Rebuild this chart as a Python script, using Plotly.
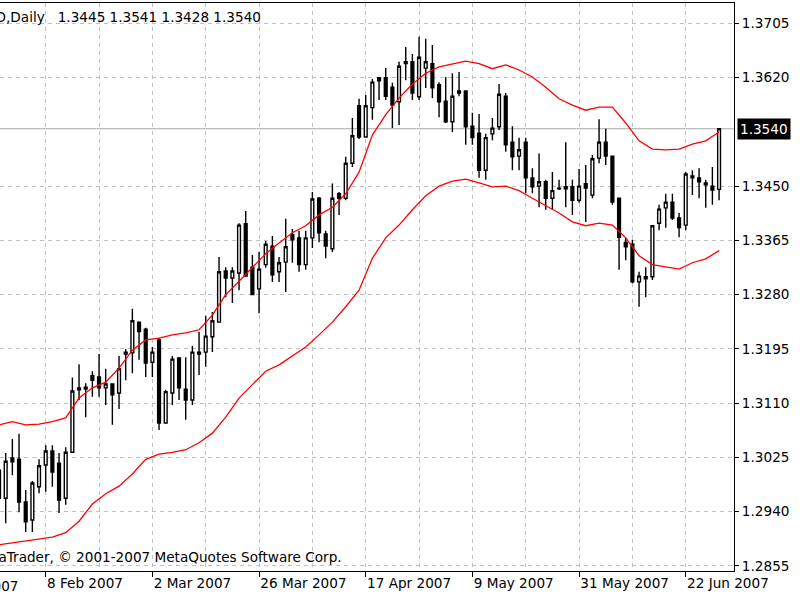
import pandas as pd
import plotly.graph_objects as go

# ---------------- data ----------------
dates = pd.bdate_range("2007-01-30", "2007-06-29")   # daily bars, weekdays

opens = [1.3005, 1.2961, 1.3024, 1.3022, 1.2955, 1.2927, 1.2979, 1.3013, 1.3035, 1.3016,
         1.2961, 1.3033, 1.3134, 1.3135, 1.3153, 1.3151, 1.3134, 1.3140, 1.3126, 1.3190,
         1.3189, 1.3237, 1.3226, 1.3174, 1.3209, 1.3079, 1.3126, 1.3181, 1.3132, 1.3115,
         1.3190, 1.3190, 1.3214, 1.3237, 1.3317, 1.3306, 1.3314, 1.3391, 1.3323, 1.3289,
         1.3327, 1.3356, 1.3316, 1.3331, 1.3374, 1.3369, 1.3327, 1.3369, 1.3431, 1.3375,
         1.3352, 1.3438, 1.3431, 1.3486, 1.3576, 1.3527, 1.3573, 1.3620, 1.3620, 1.3605,
         1.3582, 1.3645, 1.3645, 1.3590, 1.3635, 1.3642, 1.3609, 1.3583, 1.3551, 1.3599,
         1.3599, 1.3544, 1.3533, 1.3475, 1.3532, 1.3543, 1.3591, 1.3519, 1.3497, 1.3519,
         1.3463, 1.3450, 1.3457, 1.3431, 1.3447, 1.3449, 1.3449, 1.3428, 1.3454, 1.3436,
         1.3494, 1.3519, 1.3497, 1.3431, 1.3362, 1.3359, 1.3300, 1.3308, 1.3308, 1.3392,
         1.3416, 1.3425, 1.3400, 1.3389, 1.3466, 1.3463, 1.3455, 1.3450, 1.3445]
highs = [1.3037, 1.3032, 1.3054, 1.3062, 1.2974, 1.2988, 1.3022, 1.3044, 1.3044, 1.3032,
         1.3041, 1.3150, 1.3171, 1.3141, 1.3160, 1.3187, 1.3164, 1.3140, 1.3184, 1.3195,
         1.3258, 1.3237, 1.3228, 1.3198, 1.3212, 1.3131, 1.3184, 1.3181, 1.3182, 1.3200,
         1.3222, 1.3247, 1.3253, 1.3339, 1.3323, 1.3323, 1.3392, 1.3411, 1.3342, 1.3347,
         1.3364, 1.3372, 1.3339, 1.3399, 1.3383, 1.3380, 1.3380, 1.3441, 1.3433, 1.3380,
         1.3454, 1.3441, 1.3496, 1.3557, 1.3587, 1.3593, 1.3618, 1.3620, 1.3635, 1.3612,
         1.3645, 1.3668, 1.3657, 1.3684, 1.3681, 1.3671, 1.3613, 1.3621, 1.3627, 1.3629,
         1.3599, 1.3565, 1.3563, 1.3532, 1.3557, 1.3610, 1.3596, 1.3544, 1.3526, 1.3526,
         1.3478, 1.3501, 1.3460, 1.3472, 1.3460, 1.3519, 1.3460, 1.3477, 1.3483, 1.3499,
         1.3555, 1.3540, 1.3497, 1.3431, 1.3369, 1.3366, 1.3316, 1.3323, 1.3388, 1.3421,
         1.3438, 1.3438, 1.3408, 1.3472, 1.3475, 1.3478, 1.3460, 1.3480, 1.3541]
lows = [1.2935, 1.2922, 1.2997, 1.2939, 1.2908, 1.2908, 1.2969, 1.2971, 1.2979, 1.2938,
        1.2951, 1.3032, 1.3115, 1.3088, 1.3120, 1.3120, 1.3107, 1.3076, 1.3101, 1.3146,
        1.3157, 1.3178, 1.3151, 1.3151, 1.3068, 1.3079, 1.3107, 1.3115, 1.3084, 1.3107,
        1.3154, 1.3167, 1.3190, 1.3237, 1.3276, 1.3267, 1.3287, 1.3308, 1.3280, 1.3251,
        1.3322, 1.3300, 1.3300, 1.3284, 1.3330, 1.3316, 1.3319, 1.3353, 1.3362, 1.3337,
        1.3347, 1.3405, 1.3428, 1.3480, 1.3524, 1.3526, 1.3554, 1.3585, 1.3585, 1.3541,
        1.3546, 1.3616, 1.3585, 1.3585, 1.3604, 1.3588, 1.3558, 1.3549, 1.3535, 1.3591,
        1.3515, 1.3515, 1.3463, 1.3460, 1.3522, 1.3538, 1.3504, 1.3475, 1.3475, 1.3439,
        1.3439, 1.3417, 1.3413, 1.3413, 1.3444, 1.3417, 1.3405, 1.3424, 1.3394, 1.3431,
        1.3486, 1.3483, 1.3421, 1.3319, 1.3334, 1.3298, 1.3261, 1.3276, 1.3303, 1.3381,
        1.3385, 1.3397, 1.3370, 1.3381, 1.3436, 1.3431, 1.3416, 1.3421, 1.3428]
closes = [1.2961, 1.3019, 1.3018, 1.2955, 1.2924, 1.2985, 1.3012, 1.3035, 1.3002, 1.2958,
          1.3033, 1.3129, 1.3131, 1.3132, 1.3146, 1.3134, 1.3140, 1.3123, 1.3164, 1.3187,
          1.3239, 1.3222, 1.3173, 1.3190, 1.3079, 1.3128, 1.3179, 1.3134, 1.3115, 1.3190,
          1.3187, 1.3215, 1.3239, 1.3316, 1.3306, 1.3317, 1.3389, 1.3309, 1.3280, 1.3320,
          1.3359, 1.3311, 1.3330, 1.3355, 1.3366, 1.3327, 1.3369, 1.3430, 1.3377, 1.3356,
          1.3431, 1.3431, 1.3486, 1.3529, 1.3527, 1.3576, 1.3613, 1.3615, 1.3591, 1.3577,
          1.3638, 1.3642, 1.3596, 1.3652, 1.3645, 1.3604, 1.3582, 1.3551, 1.3591, 1.3596,
          1.3543, 1.3526, 1.3475, 1.3526, 1.3541, 1.3594, 1.3515, 1.3496, 1.3507, 1.3463,
          1.3449, 1.3457, 1.3431, 1.3443, 1.3446, 1.3446, 1.3428, 1.3450, 1.3447, 1.3493,
          1.3519, 1.3497, 1.3425, 1.3370, 1.3355, 1.3300, 1.3309, 1.3305, 1.3388, 1.3414,
          1.3425, 1.3400, 1.3385, 1.3469, 1.3463, 1.3457, 1.3452, 1.3444, 1.3540]

# band values sampled on every second bar
upper_band = [1.3076, 1.3081, 1.3076, 1.3077, 1.3081, 1.3087, 1.3118, 1.3134, 1.3143, 1.3165,
              1.3193, 1.3209, 1.3212, 1.3217, 1.3220, 1.3225, 1.3248, 1.3280, 1.3301, 1.3322,
              1.3344, 1.3361, 1.3377, 1.3388, 1.3405, 1.3417, 1.3438, 1.3472, 1.3530, 1.3562,
              1.3588, 1.3610, 1.3627, 1.3637, 1.3642, 1.3646, 1.3642, 1.3634, 1.3640, 1.3632,
              1.3621, 1.3605, 1.3587, 1.3577, 1.3569, 1.3574, 1.3574, 1.3549, 1.3521, 1.3508,
              1.3507, 1.3508, 1.3516, 1.3521, 1.3535]
lower_band = [1.2888, 1.2891, 1.2893, 1.2896, 1.2900, 1.2907, 1.2925, 1.2952, 1.2968, 1.2980,
              1.2999, 1.3022, 1.3030, 1.3033, 1.3037, 1.3048, 1.3063, 1.3088, 1.3118, 1.3139,
              1.3160, 1.3170, 1.3184, 1.3198, 1.3217, 1.3237, 1.3261, 1.3287, 1.3337, 1.3369,
              1.3389, 1.3413, 1.3435, 1.3450, 1.3458, 1.3461, 1.3455, 1.3449, 1.3450, 1.3443,
              1.3431, 1.3419, 1.3408, 1.3394, 1.3388, 1.3392, 1.3389, 1.3369, 1.3341, 1.3327,
              1.3323, 1.3320, 1.3330, 1.3336, 1.3349]

tick_dates = ["2007-02-08", "2007-03-02", "2007-03-26", "2007-04-17",
              "2007-05-09", "2007-05-31", "2007-06-22"]
tick_labels = ["8 Feb 2007", "2 Mar 2007", "26 Mar 2007", "17 Apr 2007",
               "9 May 2007", "31 May 2007", "22 Jun 2007"]
grid_dates = ["2007-02-08", "2007-02-20", "2007-03-02", "2007-03-14", "2007-03-26",
              "2007-04-05", "2007-04-17", "2007-04-27", "2007-05-09", "2007-05-21",
              "2007-05-31", "2007-06-12", "2007-06-22"]
price_ticks = [1.2855, 1.2940, 1.3025, 1.3110, 1.3195, 1.3280, 1.3365, 1.3450, 1.3620, 1.3705]
symbol_text = "EURUSD,Daily\u00a0\u00a0\u00a0"
copyright_text = "MetaTrader, \u00a9 2001-2007 MetaQuotes Software Corp."

# ---------------- figure ----------------
pos = {d.strftime("%Y-%m-%d"): i for i, d in enumerate(dates)}
x = list(range(len(dates)))
band_x = x[::2]
FONT = "DejaVu Sans"
FS = 13.6

fig = go.Figure()
fig.add_trace(go.Candlestick(
    x=x, open=opens, high=highs, low=lows, close=closes,
    increasing=dict(line=dict(color="black", width=1.4), fillcolor="white"),
    decreasing=dict(line=dict(color="black", width=1.4), fillcolor="black"),
    whiskerwidth=0, text=[d.strftime("%d %b %Y") for d in dates], showlegend=False))
fig.add_trace(go.Scatter(x=band_x, y=upper_band, mode="lines",
                         line=dict(color="#ff0000", width=1.3), showlegend=False))
fig.add_trace(go.Scatter(x=band_x, y=lower_band, mode="lines",
                         line=dict(color="#ff0000", width=1.3), showlegend=False))

last = closes[-1]
fig.add_shape(type="line", xref="paper", x0=0, x1=1, yref="y", y0=last, y1=last,
              line=dict(color="#a8a8a8", width=1.2), layer="between")

fig.update_layout(
    width=800, height=600,
    margin=dict(l=0, r=66, t=3, b=29),
    paper_bgcolor="white", plot_bgcolor="white",
    font=dict(family=FONT, size=FS, color="black"),
    boxgap=0.4,
    showlegend=False,
    xaxis=dict(
        range=[0.145, 110.24], rangeslider=dict(visible=False),
        tickmode="array", tickvals=[pos[d] for d in tick_dates], ticktext=tick_labels,
        ticks="outside", ticklen=5, tickcolor="black", tickwidth=1.3,
        ticklabelposition="outside right",
        showgrid=False, zeroline=False,
        showline=True, linecolor="black", linewidth=1.3, mirror=True,
        minor=dict(tickmode="array", tickvals=[pos[d] for d in grid_dates],
                   showgrid=True, gridcolor="#c0c0c0", griddash="4px,4px",
                   gridwidth=1, ticks=""),
    ),
    yaxis=dict(
        side="right", range=[1.28470, 1.37370],
        tickmode="array", tickvals=price_ticks, tickformat=".4f",
        ticks="outside", ticklen=4, tickcolor="black", tickwidth=1.3,
        showgrid=True, gridcolor="#c0c0c0", griddash="4px,4px", gridwidth=1,
        zeroline=False, showline=True, linecolor="black", linewidth=1.3,
    ),
    annotations=[
        dict(xref="paper", yref="paper", x=263 / 734, y=0.9745, xanchor="right",
             yanchor="middle", showarrow=False,
             text=symbol_text + " ".join(f"{v:.4f}" for v in
                                         (opens[-1], highs[-1], lows[-1], closes[-1]))),
        dict(xref="paper", yref="paper", x=344 / 734, y=0.0246, xanchor="right",
             yanchor="middle", showarrow=False, text=copyright_text),
        dict(xref="paper", yref="paper", x=21 / 734, y=-0.0264, xanchor="right",
             yanchor="middle", showarrow=False, text="17 Jan 2007"),
        dict(xref="paper", yref="y", x=1, y=last, xanchor="left", yanchor="middle",
             xshift=3, showarrow=False, text=f"{last:.4f}", bgcolor="black",
             font=dict(color="white", family=FONT, size=FS), borderpad=2),
    ],
)

fig.write_html("out.html")
